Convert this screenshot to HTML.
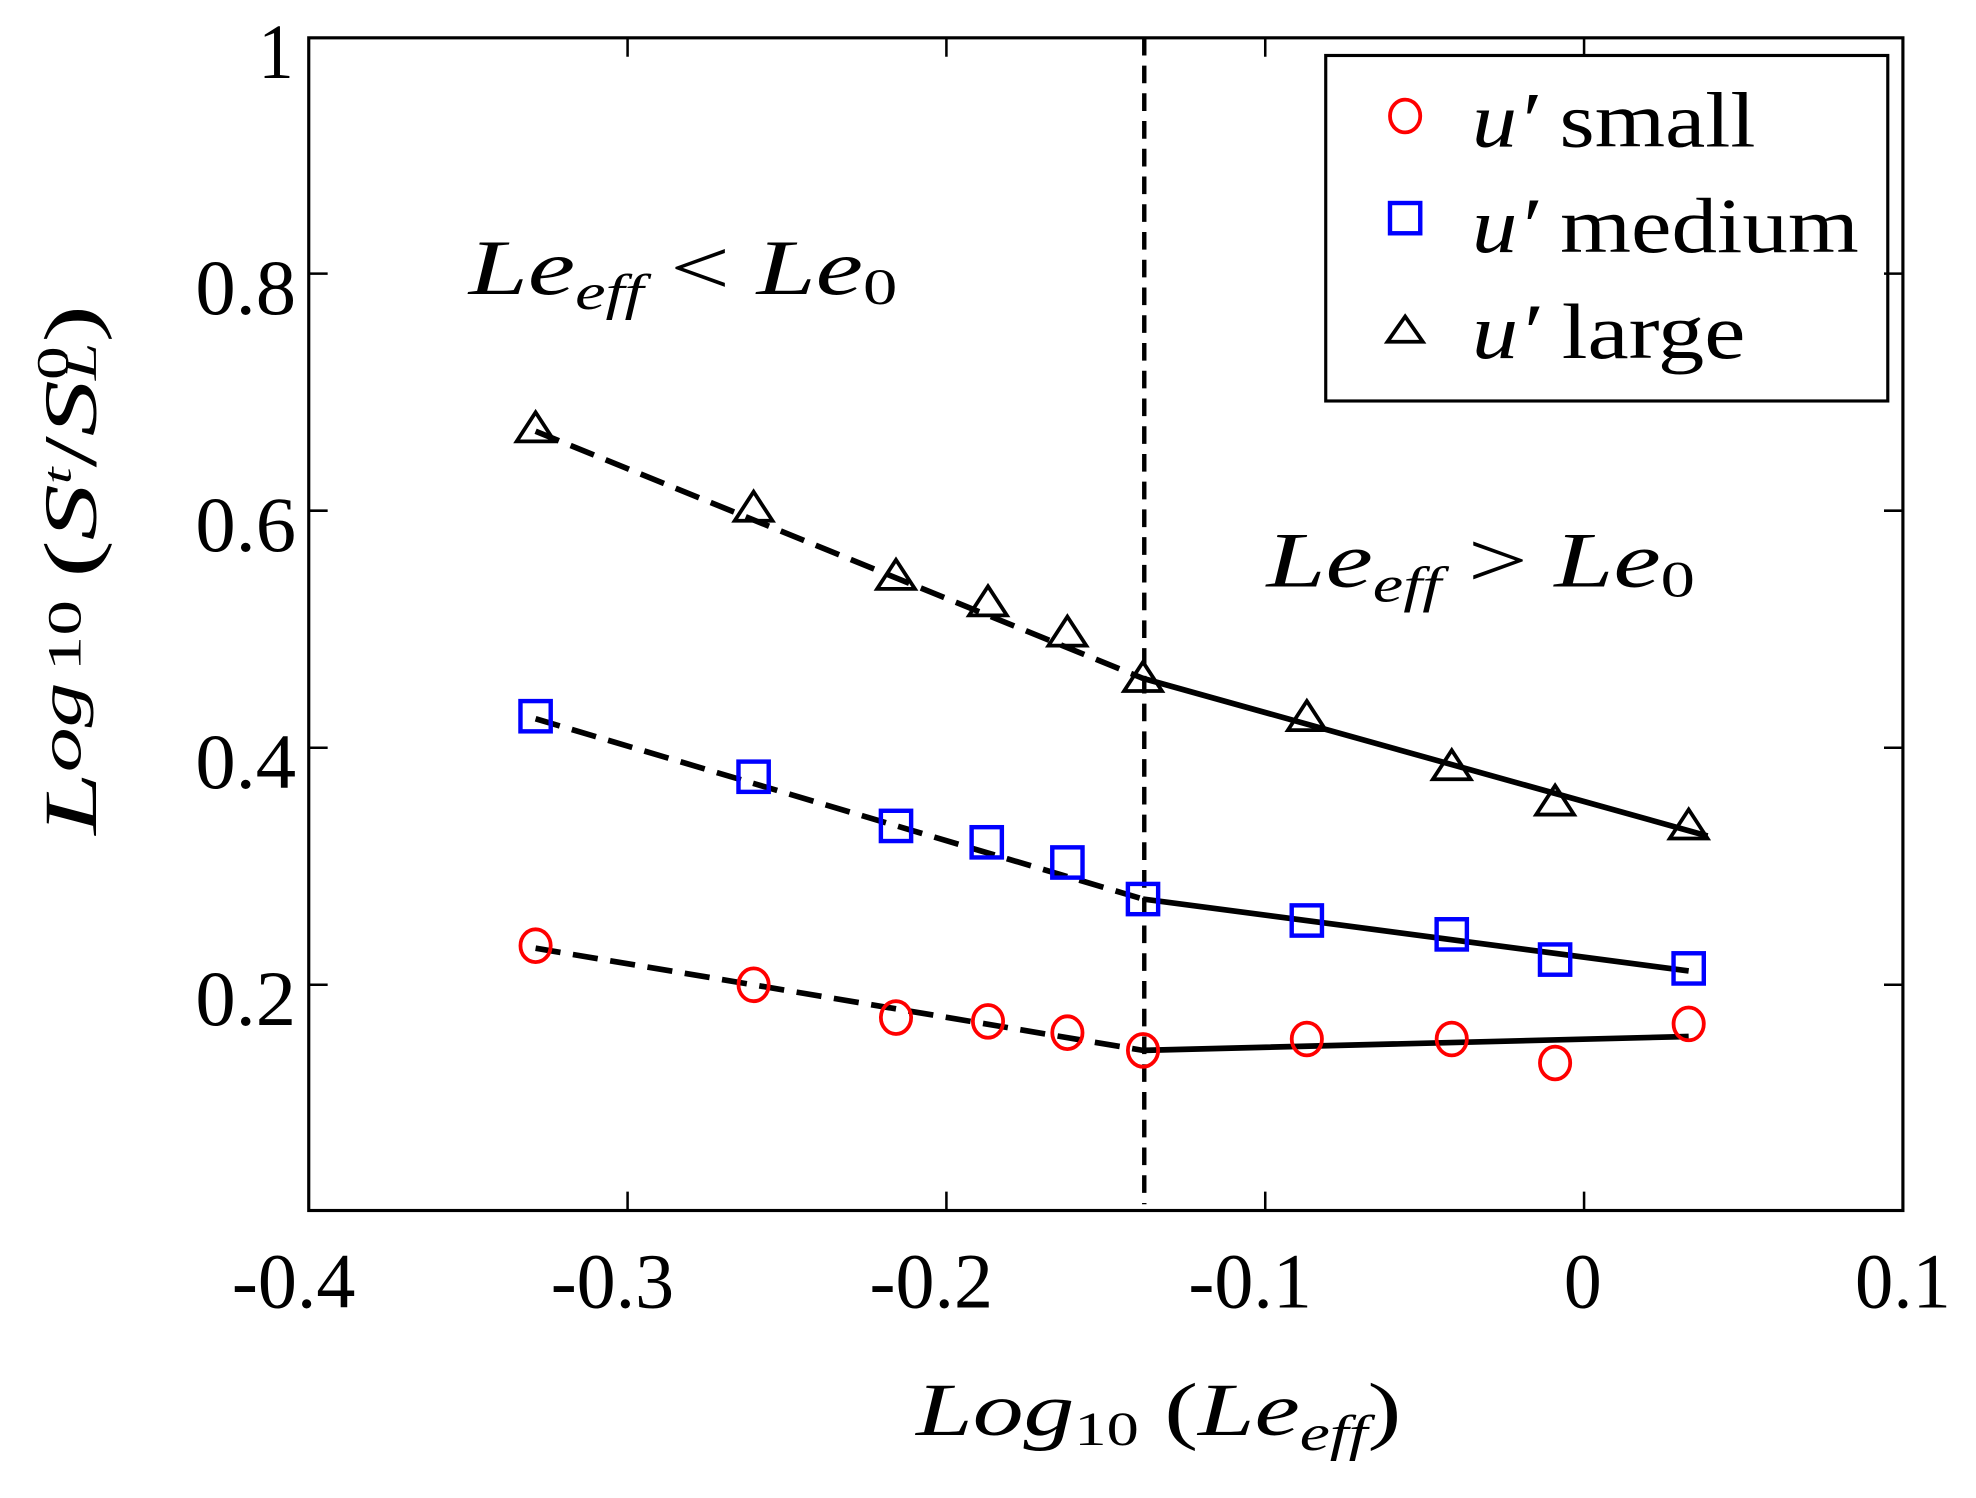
<!DOCTYPE html>
<html><head><style>html,body{margin:0;padding:0;background:#fff}svg{display:block}</style></head>
<body>
<svg width="1976" height="1498" viewBox="0 0 1568 1188" preserveAspectRatio="none" xmlns="http://www.w3.org/2000/svg" font-family="'Liberation Serif',serif">
<rect x="245" y="30" width="1265" height="930" fill="none" stroke="#000" stroke-width="2.5"/>
<g stroke="#000" stroke-width="2">
<path d="M498 30v15M751 30v15M1004 30v15M1257 30v15M498 960v-15M751 960v-15M1004 960v-15M1257 960v-15"/>
<path d="M245 217h15M245 405h15M245 593h15M245 781h15M1510 217h-15M1510 405h-15M1510 593h-15M1510 781h-15"/>
</g>
<g font-size="62" fill="#000">
<text x="184" y="1037" textLength="98" lengthAdjust="spacingAndGlyphs">-0.4</text>
<text x="437" y="1037" textLength="98" lengthAdjust="spacingAndGlyphs">-0.3</text>
<text x="690" y="1037" textLength="98" lengthAdjust="spacingAndGlyphs">-0.2</text>
<text x="943" y="1037" textLength="98" lengthAdjust="spacingAndGlyphs">-0.1</text>
<text x="1241" y="1037" textLength="30" lengthAdjust="spacingAndGlyphs">0</text>
<text x="1472" y="1037" textLength="76" lengthAdjust="spacingAndGlyphs">0.1</text>
</g>
<g font-size="62" fill="#000">
<text x="205" y="62" textLength="28" lengthAdjust="spacingAndGlyphs">1</text>
<text x="155" y="249" textLength="80" lengthAdjust="spacingAndGlyphs">0.8</text>
<text x="155" y="437" textLength="80" lengthAdjust="spacingAndGlyphs">0.6</text>
<text x="155" y="625" textLength="80" lengthAdjust="spacingAndGlyphs">0.4</text>
<text x="155" y="813" textLength="80" lengthAdjust="spacingAndGlyphs">0.2</text>
</g>
<text x="727" y="1138" font-size="60" font-style="italic" textLength="385" lengthAdjust="spacingAndGlyphs">Log<tspan font-size="38" dy="8" font-style="normal">10</tspan><tspan dy="-8" font-style="normal"> (</tspan>Le<tspan font-size="40" dy="12">eff</tspan><tspan dy="-12" font-style="normal">)</tspan></text>
<text transform="translate(76,662) rotate(-90)" font-size="60" font-style="italic" textLength="420" lengthAdjust="spacingAndGlyphs">L<tspan font-size="48" dy="-12">og</tspan><tspan font-size="38" font-style="normal" dx="6">10</tspan><tspan font-style="normal" dy="12" dx="12">(</tspan>S<tspan font-size="32" dy="-20">t</tspan><tspan dy="20" font-style="normal">/</tspan>S<tspan font-size="36" dy="-22" font-style="normal">0</tspan><tspan font-size="36" dy="22" dx="-18">L</tspan><tspan font-style="normal">)</tspan></text>
<text x="372" y="233" font-size="62" font-style="italic" textLength="340" lengthAdjust="spacingAndGlyphs">Le<tspan font-size="40" dy="12">eff</tspan><tspan dy="-12" font-style="normal"> &lt; </tspan>Le<tspan font-size="40" dy="8" font-style="normal">0</tspan></text>
<text x="1005" y="465" font-size="62" font-style="italic" textLength="340" lengthAdjust="spacingAndGlyphs">Le<tspan font-size="40" dy="12">eff</tspan><tspan dy="-12" font-style="normal"> &gt; </tspan>Le<tspan font-size="40" dy="8" font-style="normal">0</tspan></text>
<line x1="908" y1="30" x2="908" y2="955" stroke="#000" stroke-width="3.5" stroke-dasharray="14,8"/>
<g stroke="#000" stroke-width="4.5" fill="none">
<path d="M425 342L907 538M425 570L907 713M425 752L907 833" stroke-dasharray="20,10"/>
<path d="M907 538L1355 663M907 713L1340 770M907 833L1340 822"/>
</g>
<g fill="none" stroke="#000" stroke-width="3">
<path d="M0 -13L15 10H-15Z" transform="translate(425,340)"/>
<path d="M0 -13L15 10H-15Z" transform="translate(598,403)"/>
<path d="M0 -13L15 10H-15Z" transform="translate(711,457)"/>
<path d="M0 -13L15 10H-15Z" transform="translate(784,478)"/>
<path d="M0 -13L15 10H-15Z" transform="translate(847,502)"/>
<path d="M0 -13L15 10H-15Z" transform="translate(907,538)"/>
<path d="M0 -13L15 10H-15Z" transform="translate(1037,569)"/>
<path d="M0 -13L15 10H-15Z" transform="translate(1152,608)"/>
<path d="M0 -13L15 10H-15Z" transform="translate(1234,636)"/>
<path d="M0 -13L15 10H-15Z" transform="translate(1340,655)"/>
<path d="M0 -11L14 9H-14Z" transform="translate(1115,262)"/>
</g>
<g fill="none" stroke="#00f" stroke-width="3.5">
<rect x="413" y="556" width="24" height="24"/><rect x="586" y="604" width="24" height="24"/><rect x="699" y="643" width="24" height="24"/><rect x="771" y="656" width="24" height="24"/><rect x="835" y="672" width="24" height="24"/><rect x="895" y="701" width="24" height="24"/><rect x="1025" y="718" width="24" height="24"/><rect x="1140" y="729" width="24" height="24"/><rect x="1222" y="749" width="24" height="24"/><rect x="1328" y="756" width="24" height="24"/><rect x="1103" y="161" width="24" height="24"/>
</g>
<g fill="none" stroke="#f00" stroke-width="3">
<ellipse cx="425" cy="750" rx="12" ry="13"/><ellipse cx="598" cy="781" rx="12" ry="13"/><ellipse cx="711" cy="807" rx="12" ry="13"/><ellipse cx="784" cy="810" rx="12" ry="13"/><ellipse cx="847" cy="819" rx="12" ry="13"/><ellipse cx="907" cy="833" rx="12" ry="13"/><ellipse cx="1037" cy="824" rx="12" ry="13"/><ellipse cx="1152" cy="824" rx="12" ry="13"/><ellipse cx="1234" cy="843" rx="12" ry="13"/><ellipse cx="1340" cy="812" rx="12" ry="13"/><ellipse cx="1115" cy="92" rx="12" ry="13"/>
</g>
<rect x="1052" y="44" width="446" height="274" fill="none" stroke="#000" stroke-width="2.5"/>
<g font-size="62" fill="#000">
<text x="1168" y="116" textLength="225" lengthAdjust="spacingAndGlyphs"><tspan font-style="italic">u′</tspan> small</text>
<text x="1168" y="200" textLength="307" lengthAdjust="spacingAndGlyphs"><tspan font-style="italic">u′</tspan> medium</text>
<text x="1168" y="284" textLength="217" lengthAdjust="spacingAndGlyphs"><tspan font-style="italic">u′</tspan> large</text>
</g>
</svg>
</body></html>
